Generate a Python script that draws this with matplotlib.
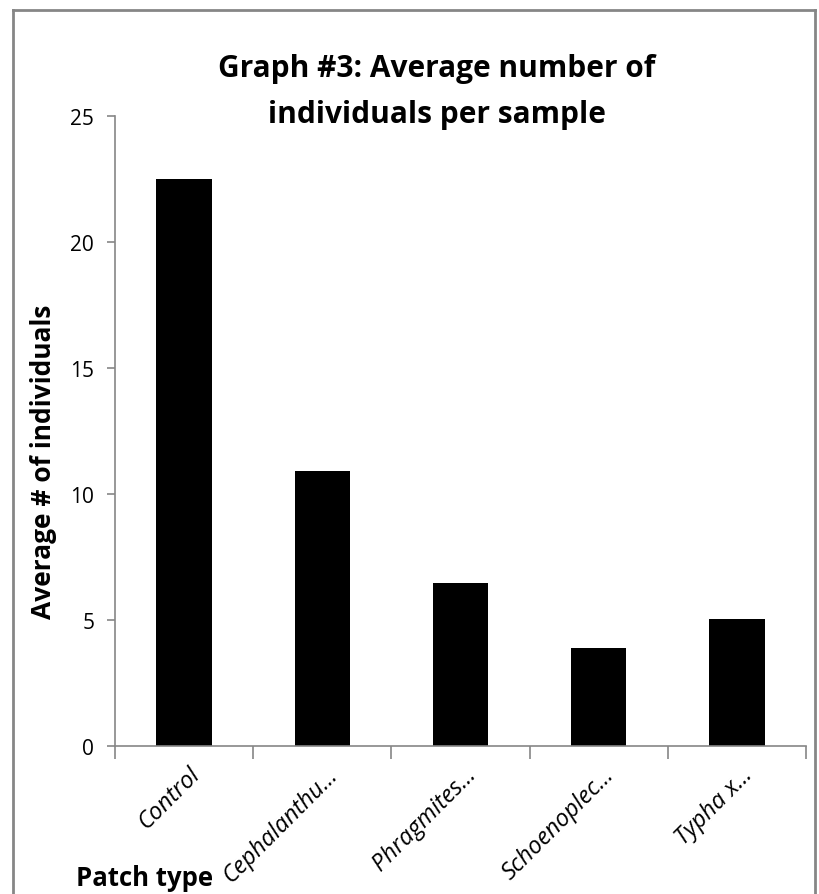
import matplotlib
matplotlib.use('Agg')
import matplotlib.pyplot as plt
import matplotlib.transforms as mtransforms
import numpy as np
from matplotlib.lines import Line2D

plt.rcParams['font.family'] = ['Open Sans', 'DejaVu Sans']

# data
patch_types = ['Control', 'Cephalanthu...', 'Phragmites...', 'Schoenoplec...', 'Typha x...']
avg_individuals = [22.5, 10.9, 6.45, 3.87, 5.04]
y_ticks = [0, 5, 10, 15, 20, 25]

W, H = 819, 895
grey = '#868686'

fig = plt.figure(figsize=(W/100, H/100), dpi=100)
ax = fig.add_axes([115/W, 1 - 746.7/H, 691/W, 630/H])

x = np.arange(len(patch_types))
ax.bar(x, avg_individuals, width=0.4, color='black')
ax.set_xlim(-0.5, len(patch_types) - 0.5)
ax.set_ylim(0, 25)
ax.set_yticks(y_ticks)
ax.tick_params(axis='y', labelsize=15, length=6, width=1.2, color=grey, pad=9)

# Excel style: ticks between categories, labels at the centres
ax.set_xticks(np.arange(-0.5, len(patch_types)), labels=[])
ax.tick_params(axis='x', which='major', length=9, width=1.2, color=grey)
ax.set_xticks(x, minor=True)
ax.set_xticklabels(patch_types, minor=True, rotation=45, ha='right', va='center',
                   rotation_mode='anchor', style='italic', fontsize=17)
ax.tick_params(axis='x', which='minor', length=0, pad=18)
shift = mtransforms.ScaledTranslation(12/100, 0, fig.dpi_scale_trans)
for lab in ax.get_xticklabels(minor=True):
    lab.set_transform(lab.get_transform() + shift)

for s in ['top', 'right']:
    ax.spines[s].set_visible(False)
for s in ['left', 'bottom']:
    ax.spines[s].set_color(grey)
    ax.spines[s].set_linewidth(1.2)

fig.text(437/W, 1 - 77/H, 'Graph #3: Average number of',
         ha='center', va='baseline', fontsize=21.5, fontweight='bold')
fig.text(437/W, 1 - 123/H, 'individuals per sample',
         ha='center', va='baseline', fontsize=21.5, fontweight='bold')
fig.text(44/W, 1 - 462/H, 'Average # of individuals', rotation=90,
         ha='center', va='center', fontsize=19, fontweight='bold')
fig.text(76/W, 1 - 886/H, 'Patch type', ha='left', va='baseline',
         fontsize=18.5, fontweight='bold')

# chart area border (bottom edge is cut off in the original)
bx0, bx1, by0 = 12.5/W, 815/W, 1 - 10.5/H
for xs, ys in [([bx0, bx0], [0, by0]), ([bx0, bx1], [by0, by0]), ([bx1, bx1], [by0, 0])]:
    fig.add_artist(Line2D(xs, ys, color=grey, lw=2))

fig.savefig('out.png', dpi=100)
